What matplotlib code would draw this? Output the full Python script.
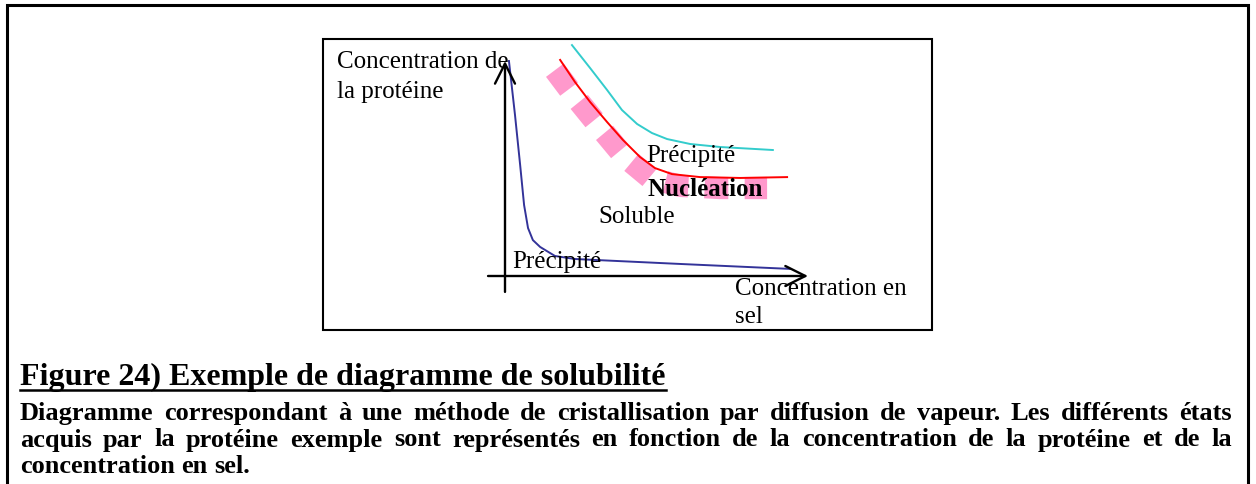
import matplotlib
matplotlib.use("Agg")
import matplotlib.pyplot as plt
from matplotlib.patches import Rectangle

plt.rcParams['font.family'] = ['Liberation Serif', 'DejaVu Serif']
plt.rcParams['lines.scale_dashes'] = False

# curves of the solubility diagram (x = salt conc., y = protein conc., arbitrary units)
blue_x = [0.13, 0.33, 0.50, 0.63, 0.76, 0.92, 1.16, 1.65, 2.31, 5.78, 9.41]
blue_y = [10.0, 7.49, 5.16, 3.30, 2.23, 1.67, 1.35, 0.93, 0.79, 0.56, 0.33]

cyan_x = [2.21, 2.81, 3.37, 3.86, 4.36, 4.85, 5.35, 6.11, 7.10, 8.84]
cyan_y = [10.74, 9.67, 8.65, 7.72, 7.07, 6.65, 6.37, 6.14, 6.00, 5.86]

red_x = [1.82, 2.31, 2.81, 3.37, 3.89, 4.46, 4.95, 5.51, 6.44, 7.76, 9.31]
red_y = [10.05, 9.02, 8.09, 7.16, 6.33, 5.53, 5.02, 4.74, 4.60, 4.56, 4.60]

pink_x = [1.52, 2.24, 3.07, 3.92, 4.79, 5.78, 7.10, 8.65]
pink_y = [9.81, 8.46, 7.02, 5.58, 4.56, 4.19, 4.09, 4.09]

# labels
ylabel_lines = ["Concentration de", "la protéine"]
xlabel_lines = ["Concentration en", "sel"]

title = "Figure 24) Exemple de diagramme de solubilité"
body_lines = [
    "Diagramme correspondant à une méthode de cristallisation par diffusion de vapeur. Les différents états",
    "acquis par la protéine exemple sont représentés en fonction de la concentration de la protéine et de la",
    "concentration en sel.",
]

W, H = 1256, 484
fig = plt.figure(figsize=(W / 100, H / 100), dpi=100)

# diagram layer: origin at pixel (505, 276), arrow tips at (808, 276) and (505, 61)
x0, x1, ytop, ybot = 505, 808, 61, 276
ax = fig.add_axes([x0 / W, 1 - ybot / H, (x1 - x0) / W, (ybot - ytop) / H])
ax.set_xlim(0, 10)
ax.set_ylim(0, 10)
ax.axis('off')

arrow = dict(arrowstyle='->', color='black', lw=1.7, mutation_scale=36, shrinkA=0, shrinkB=0)
ax.annotate('', xy=(10, 0), xytext=(-0.56, 0), arrowprops=arrow, annotation_clip=False)
ax.annotate('', xy=(0, 10), xytext=(0, -0.74), arrowprops=arrow, annotation_clip=False)

ax.plot(pink_x, pink_y, color='#ff99cc', lw=16, linestyle=(24.2, (17.0, 11.8)),
        dash_capstyle='butt', clip_on=False, zorder=1)
ax.plot(blue_x, blue_y, color='#333399', lw=1.4, clip_on=False, zorder=2)
ax.plot(cyan_x, cyan_y, color='#33cccc', lw=1.4, clip_on=False, zorder=2)
ax.plot(red_x, red_y, color='#ff0000', lw=1.4, clip_on=False, zorder=2)

# page layer in pixel coordinates, drawn above the diagram
page = fig.add_axes([0, 0, 1, 1])
page.set_xlim(0, W)
page.set_ylim(H, 0)
page.axis('off')
page.set_zorder(3)

page.plot([7, 7, 1248, 1248], [H, 5, 5, H], color='black', lw=2.2, solid_joinstyle='miter')
page.add_patch(Rectangle((323, 39), 609, 291, fill=False, ec='black', lw=1.5))

fs = 18
for i, line in enumerate(ylabel_lines):
    page.text(337, 68 + 30 * i, line, fontsize=fs, va='baseline')
for i, line in enumerate(xlabel_lines):
    page.text(735, 295 + 28 * i, line, fontsize=fs, va='baseline')
page.text(646, 162, "Précipité", fontsize=fs, va='baseline')
page.text(648, 196, "Nucléation", fontsize=fs, fontweight='bold', va='baseline')
page.text(598, 223, "Soluble", fontsize=fs, va='baseline')
page.text(512, 268, "Précipité", fontsize=fs, va='baseline')

# caption
renderer = fig.canvas.get_renderer()
t = page.text(20, 385, title, fontsize=23, fontweight='bold', va='baseline')
bb = t.get_window_extent(renderer)
page.plot([20, 20 + bb.width], [390, 390], color='black', lw=1.8)

# justified body text
left, right = 20, 1232
bfs = 19
for i, line in enumerate(body_lines):
    y = 420 + 26.5 * i
    words = line.split(' ')
    texts = [page.text(0, y, w, fontsize=bfs, fontweight='bold', va='baseline') for w in words]
    widths = [tx.get_window_extent(renderer).width for tx in texts]
    if i < len(body_lines) - 1:
        gap = (right - left - sum(widths)) / (len(words) - 1)
    else:
        gap = 0.25 * bfs * 100 / 72
    x = left
    for tx, w in zip(texts, widths):
        tx.set_x(x)
        x += w + gap

fig.savefig('out.png', dpi=100)
